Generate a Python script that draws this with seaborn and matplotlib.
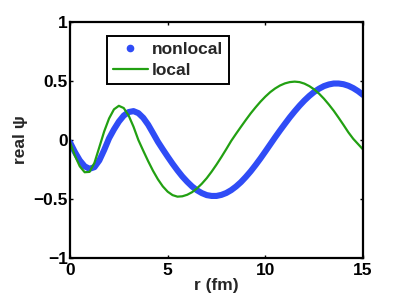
import numpy as np
import pandas as pd
import matplotlib
matplotlib.use("Agg")
import matplotlib.pyplot as plt
from matplotlib.lines import Line2D
import seaborn as sns

# r grid (fm), values at 0.25 fm steps
r_values = [i * 0.25 for i in range(61)]

nonlocal_psi = [
    -0.020, -0.102, -0.173, -0.223, -0.244, -0.230, -0.173, -0.084,
    0.015, 0.090, 0.156, 0.207, 0.237, 0.245, 0.228, 0.188,
    0.130, 0.058, -0.015, -0.079, -0.141, -0.201, -0.257, -0.309,
    -0.354, -0.394, -0.426, -0.450, -0.467, -0.474, -0.474, -0.465,
    -0.449, -0.425, -0.394, -0.357, -0.313, -0.265, -0.212, -0.156,
    -0.097, -0.037, 0.023, 0.081, 0.137, 0.192, 0.243, 0.291,
    0.335, 0.374, 0.408, 0.435, 0.457, 0.471, 0.479, 0.479,
    0.473, 0.460, 0.440, 0.414, 0.382,
]

local_psi = [
    -0.020, -0.132, -0.223, -0.273, -0.270, -0.194, -0.061, 0.073,
    0.183, 0.260, 0.290, 0.271, 0.208, 0.113, 0.000, -0.091,
    -0.179, -0.261, -0.333, -0.393, -0.438, -0.467, -0.480, -0.477,
    -0.464, -0.442, -0.410, -0.370, -0.323, -0.268, -0.208, -0.144,
    -0.077, -0.008, 0.053, 0.112, 0.170, 0.226, 0.277, 0.325,
    0.368, 0.406, 0.437, 0.462, 0.480, 0.491, 0.495, 0.491,
    0.478, 0.457, 0.429, 0.393, 0.350, 0.301, 0.248, 0.189,
    0.128, 0.065, 0.010, -0.035, -0.080,
]

x_ticks = [0, 5, 10, 15]
y_ticks = [-1, -0.5, 0, 0.5, 1]
y_tick_labels = ["\u22121", "\u22120.5", "0", "0.5", "1"]

BLUE = "#2f4cf6"
GREEN = "#22a012"
FS = 12.5

df = pd.DataFrame({"r": r_values, "nonlocal": nonlocal_psi, "local": local_psi})

sns.set_style("ticks")
plt.rcParams['font.family'] = ['Liberation Sans', 'DejaVu Sans']
plt.rcParams['font.weight'] = 'bold'

fig = plt.figure(figsize=(4.01, 3.02), dpi=100)
ax = fig.add_axes([0.1746, 0.1457, 0.7307, 0.7813])

sns.lineplot(data=df, x="r", y="nonlocal", ax=ax, color=BLUE, linewidth=4.4,
             solid_capstyle="round", solid_joinstyle="round")
sns.lineplot(data=df, x="r", y="local", ax=ax, color=GREEN, linewidth=1.6)

ax.set_xlim(0, 15)
ax.set_ylim(-1, 1)
ax.set_xticks(x_ticks)
ax.set_xticklabels([str(t) for t in x_ticks])
ax.set_yticks(y_ticks)
ax.set_yticklabels(y_tick_labels)
ax.tick_params(direction="in", length=2.5, width=1, top=True, right=True,
               labelsize=FS, colors="black")
ax.tick_params(axis="x", pad=3.5)
ax.tick_params(axis="y", pad=1.5)
for lab in ax.get_xticklabels() + ax.get_yticklabels():
    lab.set_fontweight("bold")
for sp in ax.spines.values():
    sp.set_visible(True)
    sp.set_linewidth(1.6)
    sp.set_color("black")

ax.set_xlabel("r (fm)", fontsize=FS, fontweight="bold", labelpad=0)
ax.set_ylabel("real \u03c8", fontsize=FS, fontweight="bold", labelpad=4)

handles = [
    Line2D([], [], color=BLUE, marker="o", markersize=4.5, linestyle="none"),
    Line2D([], [], color=GREEN, linewidth=1.6),
]
leg = ax.legend(handles, ["nonlocal", "local"], loc="upper left",
                bbox_to_anchor=(0.126, 0.94), frameon=True, fancybox=False,
                fontsize=FS, handlelength=2.0, handletextpad=0.25,
                borderpad=0.35, labelspacing=0.3, borderaxespad=0)
leg.get_frame().set_edgecolor("black")
leg.get_frame().set_linewidth(1.4)
leg.get_frame().set_alpha(1)
for t in leg.get_texts():
    t.set_fontweight("bold")

fig.savefig("out.png", dpi=100)
